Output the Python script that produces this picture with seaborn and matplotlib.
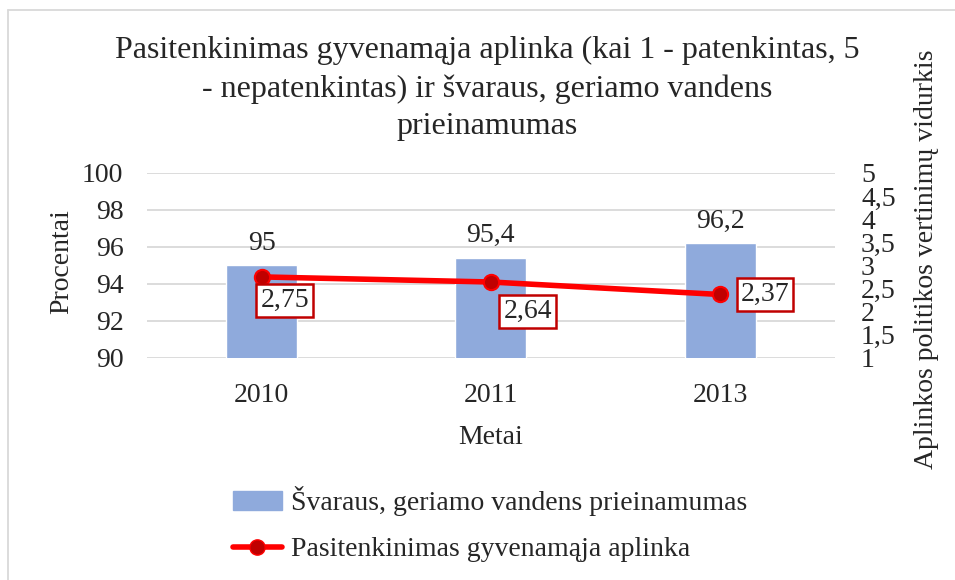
import matplotlib
matplotlib.use("Agg")
import matplotlib.pyplot as plt
import seaborn as sns
import pandas as pd
import numpy as np
from matplotlib.patches import Patch
from matplotlib.lines import Line2D

years = ["2010", "2011", "2013"]
water = [95, 95.4, 96.2]
satisfaction = [2.75, 2.64, 2.37]
water_labels = ["95", "95,4", "96,2"]
sat_labels = ["2,75", "2,64", "2,37"]
left_ticks = [90, 92, 94, 96, 98, 100]
right_ticks = [1, 1.5, 2, 2.5, 3, 3.5, 4, 4.5, 5]
right_tick_labels = ["1", "1,5", "2", "2,5", "3", "3,5", "4", "4,5", "5"]

title = "Pasitenkinimas gyvenamąja aplinka (kai 1 - patenkintas, 5\n- nepatenkintas) ir švaraus, geriamo vandens\nprieinamumas"
bar_name = "Švaraus, geriamo vandens prieinamumas"
line_name = "Pasitenkinimas gyvenamąja aplinka"

sns.set_theme(style="white")
plt.rcParams["font.family"] = ["Liberation Serif", "DejaVu Serif"]

BAR = "#8FAADC"
RED = "#FF0000"
DARKRED = "#C00000"
FS = 20

df = pd.DataFrame({"year": years, "water": water, "sat": satisfaction})

fig = plt.figure(figsize=(9.55, 5.8), dpi=100)
ax = fig.add_axes([0.154, 0.383, 0.720, 0.319])

sns.barplot(data=df, x="year", y="water", color=BAR, width=0.31, ax=ax,
            saturation=1, zorder=2)
ax.set_ylim(90, 100)
ax.set_yticks(left_ticks)
ax.set_yticklabels([str(t) for t in left_ticks], fontsize=FS)
ax.set_xlim(-0.5, 2.5)
ax.yaxis.grid(True, color="#D9D9D9", linewidth=1.3, zorder=0)
ax.set_axisbelow(True)
for s in ax.spines.values():
    s.set_visible(False)
ax.tick_params(axis="y", length=0, pad=17, labelsize=FS)
ax.tick_params(axis="x", length=0, pad=18, labelsize=FS)
ax.set_xlabel("Metai", fontsize=FS, labelpad=12)
ax.set_ylabel("Procentai", fontsize=FS)
ax.yaxis.set_label_coords(-0.106, 0.52)

for p, lab in zip(ax.patches, water_labels):
    ax.annotate(lab, (p.get_x() + p.get_width() / 2, p.get_height()),
                xytext=(0, 7), textcoords="offset points", ha="center",
                va="bottom", fontsize=FS)

ax2 = ax.twinx()
sns.lineplot(x=np.arange(len(years)), y=satisfaction, ax=ax2, color=RED,
             linewidth=4, marker="o", markersize=11, markerfacecolor=DARKRED,
             markeredgecolor=RED, markeredgewidth=1.5, zorder=5)
ax2.set_xlim(-0.5, 2.5)
ax2.set_ylim(1, 5)
ax2.set_yticks(right_ticks)
ax2.set_yticklabels(right_tick_labels, fontsize=FS)
ax2.tick_params(axis="y", length=0, pad=19, labelsize=FS)
for s in ax2.spines.values():
    s.set_visible(False)
ax2.grid(False)
ax2.set_ylabel("Aplinkos politikos vertinimų vidurkis", fontsize=FS)
ax2.yaxis.set_label_coords(1.115, 0.535)

# offsets (points) of box text relative to each point
offsets = [(-1, -8), (9, -12), (15, 0)]
vas = ["top", "top", "center"]
for i, (v, lab) in enumerate(zip(satisfaction, sat_labels)):
    ax2.annotate(lab, (i, v), xytext=offsets[i], textcoords="offset points",
                 ha="left", va=vas[i], fontsize=FS,
                 bbox=dict(boxstyle="square,pad=0.14", fc="white",
                           ec=DARKRED, lw=1.8), zorder=6)

fig.suptitle(title, fontsize=23, x=0.51, y=0.938, linespacing=1.4)

handles = [Patch(facecolor=BAR, edgecolor=BAR),
           Line2D([0], [0], color=RED, lw=4, marker="o", markersize=11,
                  markerfacecolor=DARKRED, markeredgecolor=RED)]
fig.legend(handles, [bar_name, line_name], loc="upper left",
           bbox_to_anchor=(0.244, 0.162), frameon=False, fontsize=FS,
           handlelength=1.75, handletextpad=0.35, labelspacing=0.75,
           borderaxespad=0, borderpad=0, bbox_transform=fig.transFigure)

# chart-area border (top and left edges only visible)
x0 = 7.5 / 955
y0 = 1 - 9.5 / 580
fig.add_artist(Line2D([x0, 1.0], [y0, y0], transform=fig.transFigure,
                      color="#D9D9D9", lw=1.3))
fig.add_artist(Line2D([x0, x0], [0.0, y0], transform=fig.transFigure,
                      color="#D9D9D9", lw=1.3))

fig.savefig("out.png", dpi=100)
